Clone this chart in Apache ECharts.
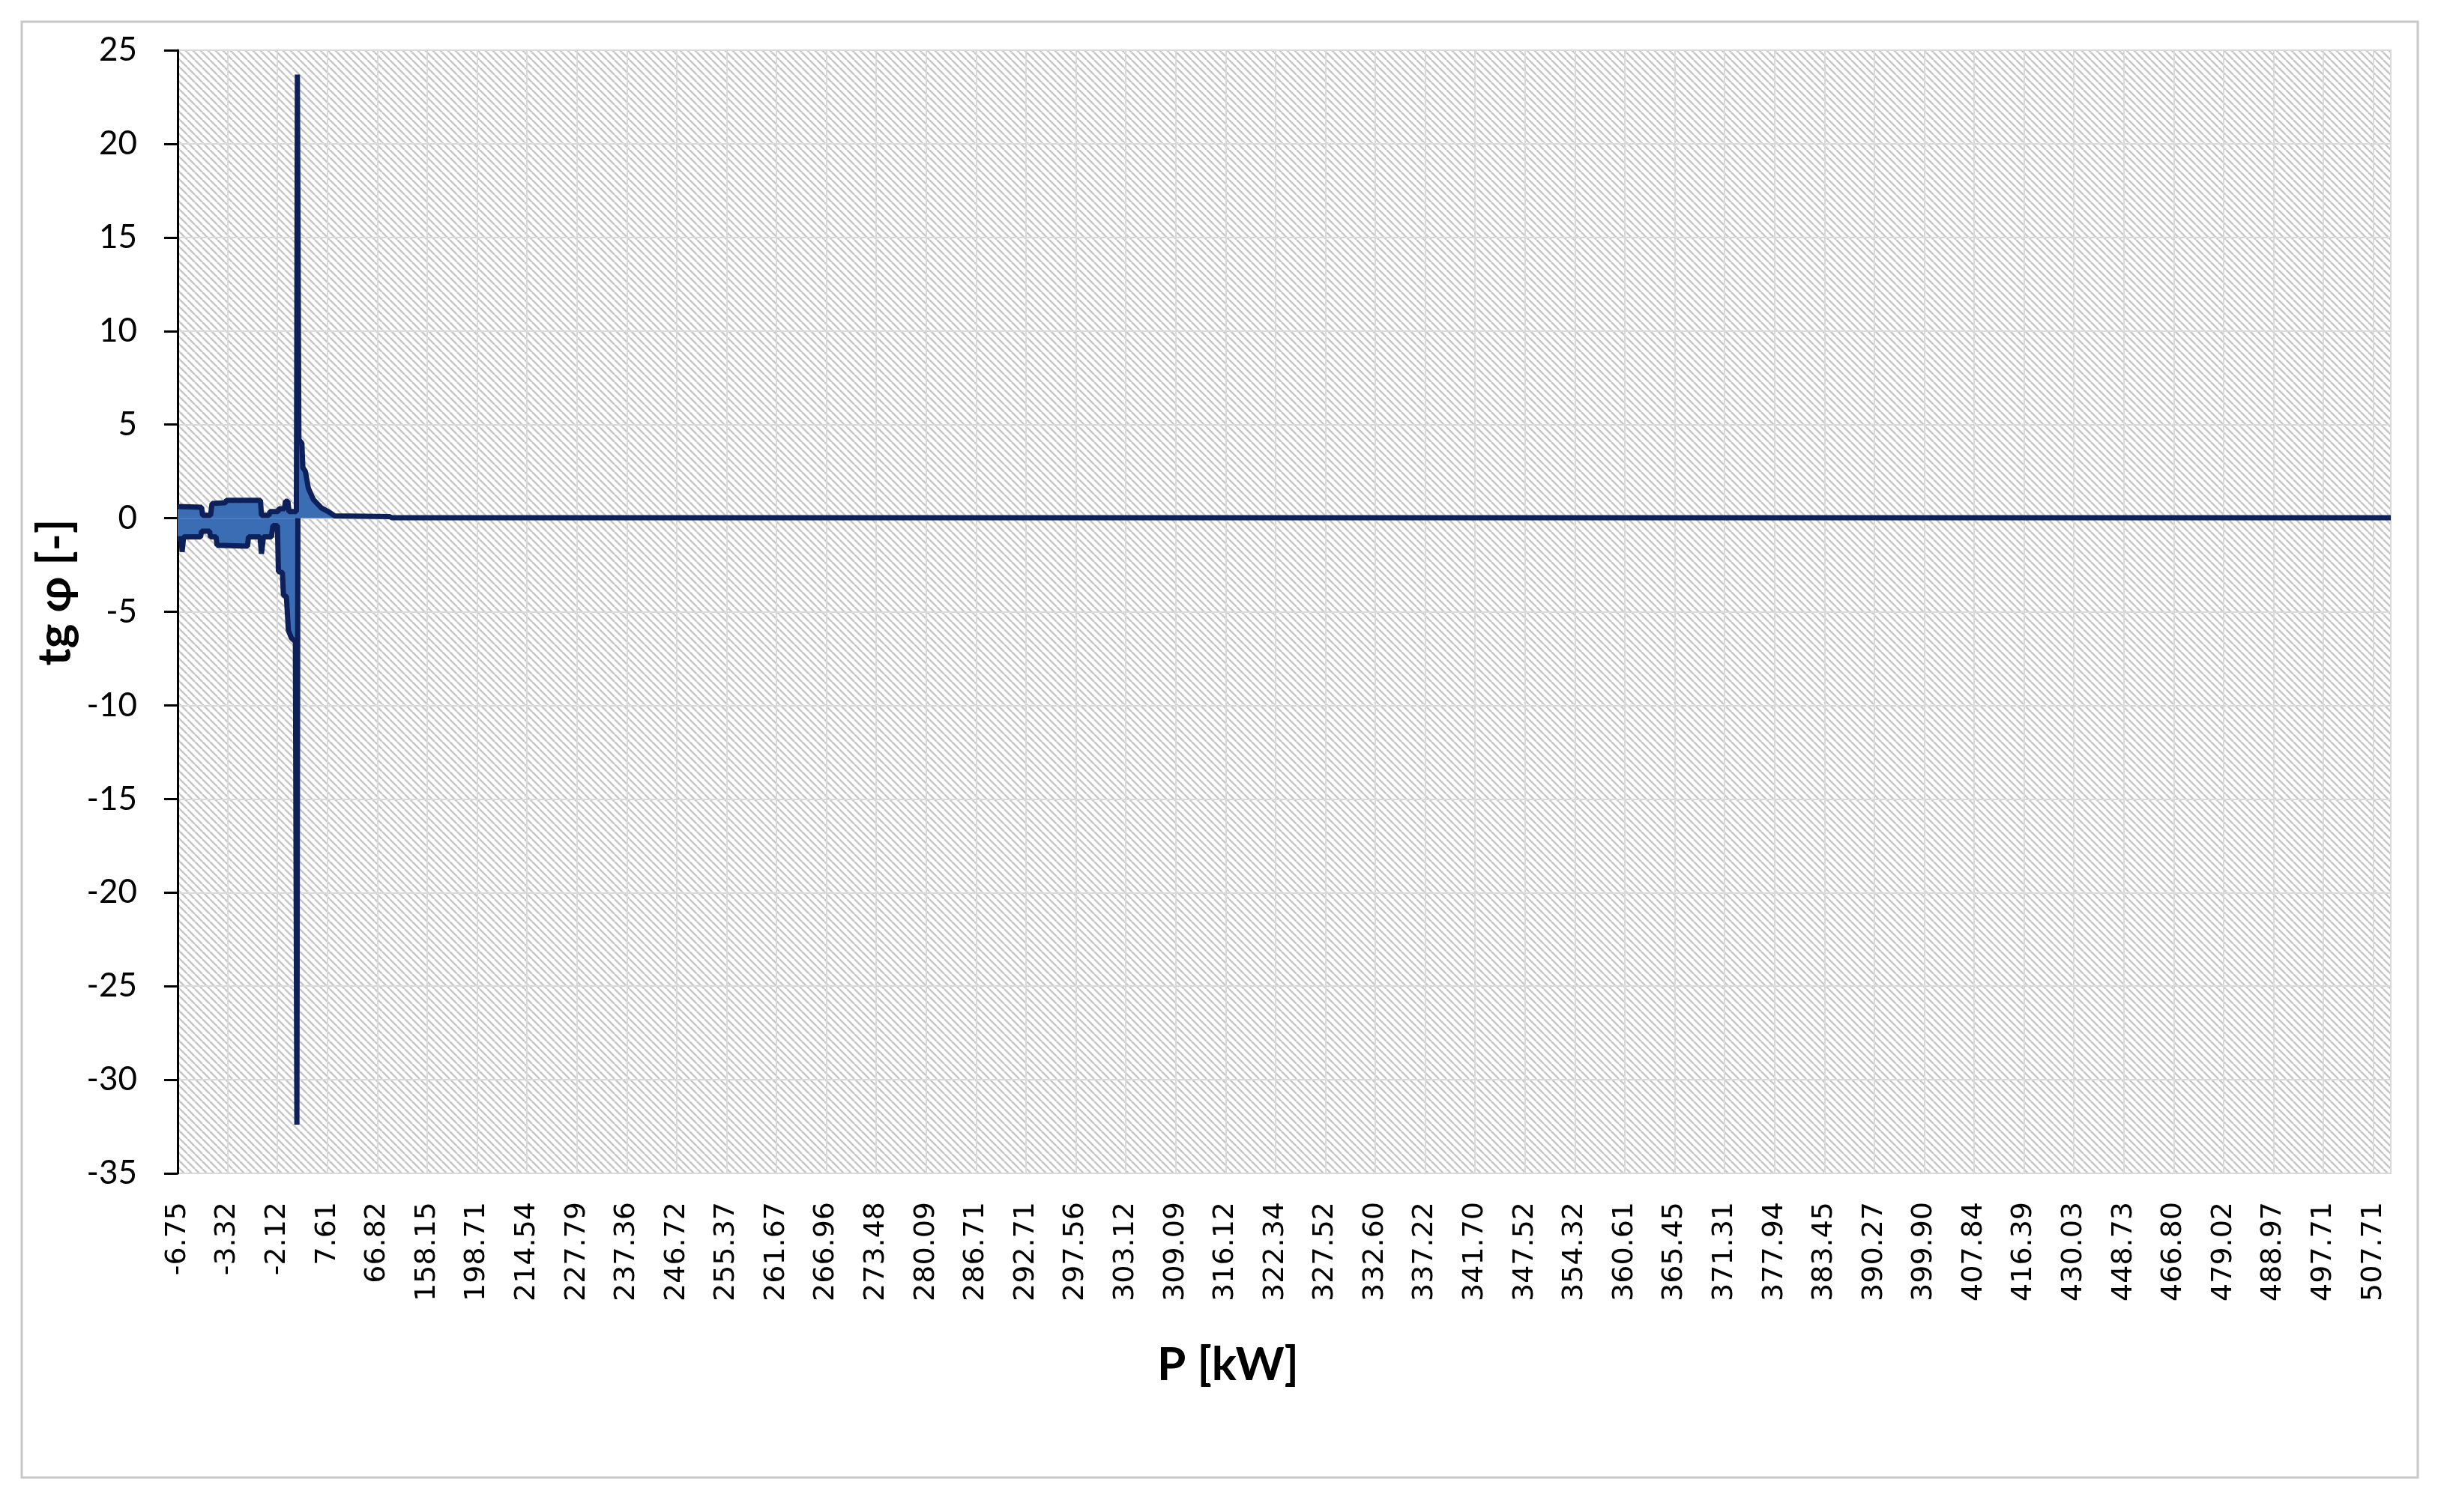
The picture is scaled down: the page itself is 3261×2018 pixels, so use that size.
<!DOCTYPE html>
<html lang="pl">

<head>
  <meta charset="UTF-8">
  <title>tg φ = f(P)</title>
  <script src="https://cdn.jsdelivr.net/npm/echarts@6/dist/echarts.min.js"></script>
  <style>
    html,
    body {
      padding: 0;
      margin: 0;
      background: #fff;
    }

    #chart {
      width: 3261px;
      height: 2018px;
    }
  </style>
</head>

<body>
  <div id="chart"></div>
  <script>
    // etykiety osi X: co n-ta probka P [kW] (posortowane rosnaco)
    const pLabels = ['-6.75', '-3.32', '-2.12', '7.61', '66.82', '158.15', '198.71', '214.54', '227.79',
      '237.36', '246.72', '255.37', '261.67', '266.96', '273.48', '280.09', '286.71', '292.71', '297.56',
      '303.12', '309.09', '316.12', '322.34', '327.52', '332.60', '337.22', '341.70', '347.52', '354.32',
      '360.61', '365.45', '371.31', '377.94', '383.45', '390.27', '399.90', '407.84', '416.39', '430.03',
      '448.73', '466.80', '479.02', '488.97', '497.71', '507.71']

    // polozenie na osi X liczone w krokach etykiet; gorna obwiednia gestego przebiegu tg φ
    const upperPos = [0, 0.48, 0.50, 0.66, 0.69, 0.95, 0.98, 1.66, 1.68, 1.83, 1.85, 2.01, 2.03, 2.14, 2.16,
      2.21, 2.23, 2.38, 2.40, 2.43, 2.49, 2.51, 2.56, 2.62, 2.72, 2.88, 3.02, 3.15, 4.25, 4.30, 44.35]
    const upperTg = [0.62, 0.58, 0.15, 0.15, 0.78, 0.82, 0.95, 0.95, 0.15, 0.15, 0.35, 0.35, 0.50, 0.50, 0.90,
      0.90, 0.35, 0.35, 23.7, 4.2, 4.0, 2.7, 2.5, 1.6, 1.0, 0.55, 0.35, 0.12, 0.08, 0.02, 0.02]

    // dolna obwiednia (ujemne tg φ przy P bliskim zera)
    const lowerPos = [0, 0.07, 0.09, 0.12, 0.46, 0.48, 0.64, 0.66, 0.77, 0.79, 0.83, 0.85, 1.40, 1.42, 1.65,
      1.68, 1.72, 1.88, 1.91, 2.00, 2.02, 2.10, 2.12, 2.18, 2.22, 2.28, 2.36, 2.39, 2.41]
    const lowerTg = [-1.10, -1.10, -1.80, -1.00, -1.00, -0.70, -0.70, -1.00, -1.00, -1.45, -1.45, -1.50, -1.50,
      -1.00, -1.00, -1.90, -1.00, -1.00, -0.40, -0.40, -2.85, -2.90, -4.10, -4.20, -6.00, -6.40, -6.60, -32.4, 0]

    const zip = (xs, ys) => xs.map((x, i) => [x, ys[i]])

    // kreskowanie tla obszaru wykresu (jak w Excelu)
    function hatch() {
      const c = document.createElement('canvas')
      c.width = c.height = 10
      const g = c.getContext('2d')
      g.fillStyle = '#ffffff'
      g.fillRect(0, 0, 10, 10)
      g.strokeStyle = '#c6c6c6'
      g.lineWidth = 2.5
      for (const k of [-10, 0, 10]) {
        g.beginPath()
        g.moveTo(k, 0)
        g.lineTo(k + 10, 10)
        g.stroke()
      }
      return c
    }

    const lineColor = '#0d205a'
    const fillColor = '#3b6db5'
    const chart = echarts.init(document.getElementById('chart'))
    chart.setOption({
      animation: false,
      backgroundColor: '#fff',
      graphic: [{
        type: 'rect',
        shape: { x: 29, y: 29, width: 3197, height: 1943 },
        style: { fill: 'none', stroke: '#c8c8c8', lineWidth: 3 },
        z: -1
      }],
      grid: {
        left: 237,
        right: 71,
        top: 67,
        bottom: 452,
        show: true,
        backgroundColor: { image: hatch(), repeat: 'repeat' },
        borderColor: '#d4d4d4',
        borderWidth: 2
      },
      xAxis: {
        type: 'value',
        min: 0,
        max: 44.35,
        interval: 1,
        name: 'P [kW]',
        nameLocation: 'middle',
        nameGap: 225,
        nameTextStyle: {
          fontFamily: 'Lato',
          fontWeight: 'bold',
          fontSize: 62,
          color: '#000',
          padding: [0, 150, 0, 0]
        },
        axisLine: { show: false },
        axisTick: { show: false },
        axisLabel: {
          rotate: 90,
          margin: 38,
          fontFamily: 'DejaVu Sans',
          fontSize: 38,
          color: '#000',
          formatter: v => pLabels[v] || ''
        },
        splitLine: { show: true, lineStyle: { color: '#dadada', width: 2 } }
      },
      yAxis: {
        type: 'value',
        min: -35,
        max: 25,
        interval: 5,
        name: 'tg φ [-]',
        nameLocation: 'middle',
        nameRotate: 90,
        nameGap: 122,
        nameTextStyle: {
          fontFamily: 'Lato',
          fontWeight: 'bold',
          fontSize: 62,
          color: '#000',
          padding: [0, 0, 0, 52]
        },
        axisLine: { show: true, lineStyle: { color: '#000', width: 3 } },
        axisTick: { show: true, length: 18, lineStyle: { color: '#000', width: 3 } },
        axisLabel: {
          margin: 54,
          fontFamily: 'Lato',
          fontSize: 44,
          color: '#000'
        },
        splitLine: { show: true, lineStyle: { color: '#dadada', width: 2 } }
      },
      series: [{
        name: 'tg φ (min)',
        type: 'line',
        symbol: 'none',
        data: zip(lowerPos, lowerTg),
        lineStyle: { color: lineColor, width: 7 },
        areaStyle: { color: fillColor, opacity: 1 }
      }, {
        name: 'tg φ (max)',
        type: 'line',
        symbol: 'none',
        data: zip(upperPos, upperTg),
        lineStyle: { color: lineColor, width: 7 },
        areaStyle: { color: fillColor, opacity: 1 }
      }]
    })
  </script>
</body>

</html>
